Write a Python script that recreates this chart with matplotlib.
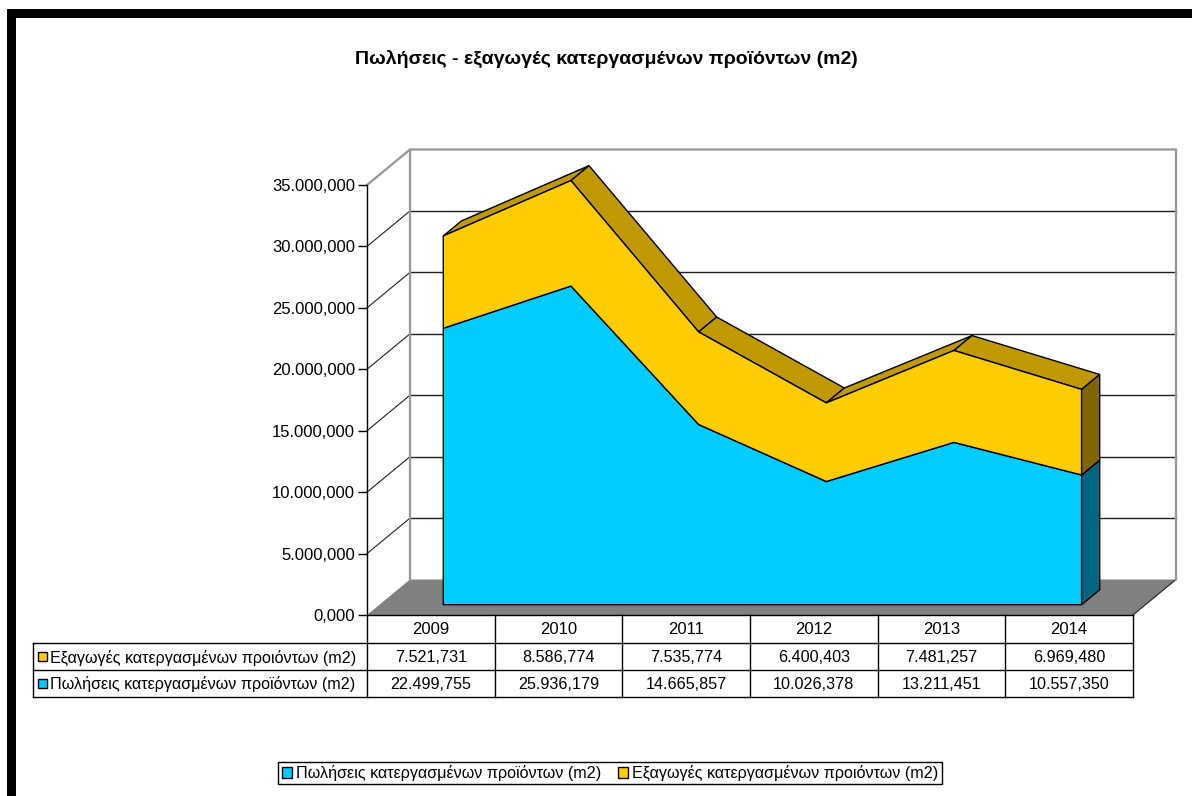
import numpy as np
import matplotlib
matplotlib.use("Agg")
import matplotlib.pyplot as plt
from matplotlib.patches import Polygon, Rectangle, Patch
from matplotlib.ticker import FuncFormatter

plt.rcParams['font.family'] = ['Liberation Sans', 'DejaVu Sans']

# data
years = ['2009', '2010', '2011', '2012', '2013', '2014']
exports = [7521.731, 8586.774, 7535.774, 6400.403, 7481.257, 6969.480]
sales = [22499.755, 25936.179, 14665.857, 10026.378, 13211.451, 10557.350]
sales_name = 'Πωλήσεις κατεργασμένων προϊόντων (m2)'
exports_name = 'Εξαγωγές κατεργασμένων προιόντων (m2)'
title = 'Πωλήσεις - εξαγωγές κατεργασμένων προϊόντων (m2)'
yticks = np.arange(0, 35001, 5000)

c_sales, c_sales_side = '#00CCFF', '#006680'
c_exp, c_exp_top, c_exp_side = '#FFCC00', '#C09900', '#806600'
FS = 12     # axis labels
TFS = 11.6  # table and legend


def gr(v):
    # greek style number: 7.521,731
    s = f'{v:,.3f}'
    return s.replace(',', ' ').replace('.', ',').replace(' ', '.')


W, H = 1192, 796
fig = plt.figure(figsize=(W / 100, H / 100), dpi=100)

# front plane of the plot (pixels)
L, R, Y0, Y1 = 367, 1133, 615, 185
ax = fig.add_axes([L / W, 1 - Y0 / H, (R - L) / W, (Y0 - Y1) / H])
n = len(years)
ax.set_xlim(-0.5, n - 0.5)
ax.set_ylim(0, 35000)
ax.patch.set_visible(False)
for s in ['top', 'right', 'bottom']:
    ax.spines[s].set_visible(False)
ax.spines['left'].set_linewidth(1)
ax.set_xticks([])
ax.set_yticks(yticks)
ax.yaxis.set_major_formatter(FuncFormatter(lambda v, p: gr(v)))
ax.tick_params(axis='y', length=6.5, width=1, pad=2, labelsize=FS)

# depth of the 3d box in data units
dx = 43 / ((R - L) / n)
dy = 35.5 * 35000 / (Y0 - Y1)
x0, x1 = -0.5, n - 0.5
ytop = yticks[-1]

# floor
ax.add_patch(Polygon([(x0, 0), (x1, 0), (x1 + dx, dy), (x0 + dx, dy)],
                     closed=True, fc='#808080', ec='none', clip_on=False, zorder=1))
ax.plot([x1, x1 + dx], [0, dy], color='#202020', lw=0.8, clip_on=False, zorder=1)

# back wall + side wall
for v in yticks[1:-1]:
    ax.plot([x0 + dx, x1 + dx], [v + dy, v + dy], color='#202020', lw=1, clip_on=False, zorder=1)
    ax.plot([x0, x0 + dx], [v, v + dy], color='#202020', lw=0.8, clip_on=False, zorder=1)
ax.plot([x0, x0 + dx, x1 + dx, x1 + dx], [ytop, ytop + dy, ytop + dy, dy],
        color='#969696', lw=1.6, clip_on=False, zorder=1)
ax.plot([x0 + dx, x0 + dx], [dy, ytop + dy], color='#969696', lw=1.6, clip_on=False, zorder=1)
ax.plot([x0, x1], [0, 0], color='black', lw=1, clip_on=False, zorder=2)

# stacked 3d area
f1, f2 = 0.29, 0.71
xs = np.arange(n)
sales_a = np.array(sales)
total = sales_a + np.array(exports)
fx1, fy1 = f1 * dx, f1 * dy
fx2, fy2 = f2 * dx, f2 * dy

for i in range(n - 1):
    quad = [(xs[i] + fx1, total[i] + fy1), (xs[i + 1] + fx1, total[i + 1] + fy1),
            (xs[i + 1] + fx2, total[i + 1] + fy2), (xs[i] + fx2, total[i] + fy2)]
    ax.add_patch(Polygon(quad, closed=True, fc=c_exp_top, ec='black', lw=1, clip_on=False, zorder=3))

front_b = list(zip(xs + fx1, sales_a + fy1)) + [(xs[-1] + fx1, fy1), (xs[0] + fx1, fy1)]
ax.add_patch(Polygon(front_b, closed=True, fc=c_sales, ec='black', lw=1, clip_on=False, zorder=4))
front_y = list(zip(xs + fx1, total + fy1)) + list(zip(xs[::-1] + fx1, sales_a[::-1] + fy1))
ax.add_patch(Polygon(front_y, closed=True, fc=c_exp, ec='black', lw=1, clip_on=False, zorder=4))

xe = xs[-1]
side_b = [(xe + fx1, fy1), (xe + fx2, fy2), (xe + fx2, sales_a[-1] + fy2), (xe + fx1, sales_a[-1] + fy1)]
ax.add_patch(Polygon(side_b, closed=True, fc=c_sales_side, ec='black', lw=1, clip_on=False, zorder=4))
side_y = [(xe + fx1, sales_a[-1] + fy1), (xe + fx2, sales_a[-1] + fy2),
          (xe + fx2, total[-1] + fy2), (xe + fx1, total[-1] + fy1)]
ax.add_patch(Polygon(side_y, closed=True, fc=c_exp_side, ec='black', lw=1, clip_on=False, zorder=4))

# overlay in pixels for frame and data table
tax = fig.add_axes([0, 0, 1, 1])
tax.set_xlim(0, W)
tax.set_ylim(H, 0)
tax.axis('off')

tax.add_patch(Rectangle((7, 9), W - 7, 9, fc='black', ec='none'))
tax.add_patch(Rectangle((7, 9), 9, H - 9, fc='black', ec='none'))

fig.text(606 / W, 1 - 59 / H, title, ha='center', va='center', fontsize=14, fontweight='bold')

cw = (R - L) / n
rows_y = [615, 643, 670, 697]
lab_l = 33
tax.plot([L, L], [Y0, rows_y[-1]], color='black', lw=1)
for k in range(1, n + 1):
    tax.plot([L + k * cw] * 2, [Y0, rows_y[-1]], color='black', lw=1)
for yy in rows_y[1:]:
    tax.plot([lab_l, R], [yy, yy], color='black', lw=1)
tax.plot([lab_l, lab_l], [rows_y[1], rows_y[-1]], color='black', lw=1)

for k, yr in enumerate(years):
    tax.text(L + (k + 0.5) * cw, (rows_y[0] + rows_y[1]) / 2 + 1, yr, ha='center', va='center', fontsize=FS)

table_rows = [(exports_name, c_exp, exports), (sales_name, c_sales, sales)]
for r, (name, col, vals) in enumerate(table_rows):
    yc = (rows_y[r + 1] + rows_y[r + 2]) / 2
    tax.add_patch(Rectangle((38, yc - 4.5), 9, 9, fc=col, ec='black', lw=1))
    tax.text(50, yc + 1, name, ha='left', va='center', fontsize=TFS)
    for k, v in enumerate(vals):
        tax.text(L + (k + 0.5) * cw, yc + 1, gr(v), ha='center', va='center', fontsize=TFS)

handles = [Patch(fc=c_sales, ec='black', lw=1), Patch(fc=c_exp, ec='black', lw=1)]
leg = fig.legend(handles, [sales_name, exports_name], loc='center',
                 bbox_to_anchor=(610 / W, 1 - 773 / H), ncol=2, frameon=True, fancybox=False,
                 edgecolor='black', framealpha=1, handlelength=0.65, handleheight=0.65,
                 handletextpad=0.25, columnspacing=1.0, borderpad=0.2, borderaxespad=0,
                 fontsize=TFS)
leg.get_frame().set_linewidth(1)

fig.savefig('out.png', dpi=100)
